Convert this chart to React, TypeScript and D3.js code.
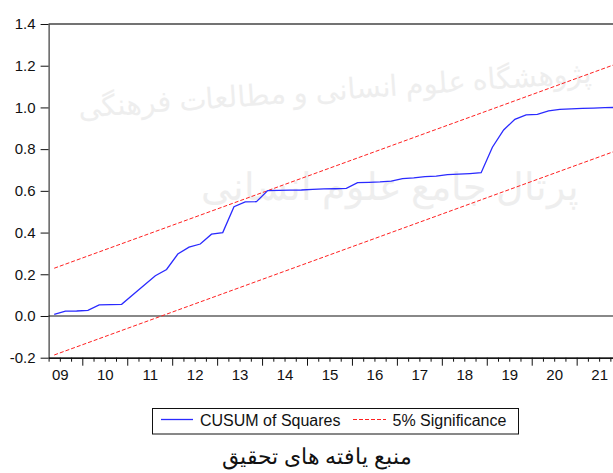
import { useEffect, useRef } from "react";
import { axisBottom, axisLeft, scaleLinear, line, select } from "d3";

// quarterly CUSUM of squares, first observation 2009Q2
const firstYear = 2009;
const firstQuarter = 2;
const cusumSq = [
  0.008, 0.023, 0.024, 0.027, 0.053, 0.054, 0.056, 0.102, 0.147, 0.193,
  0.223, 0.297, 0.33, 0.345, 0.392, 0.4, 0.524, 0.547, 0.548, 0.601,
  0.602, 0.603, 0.604, 0.607, 0.609, 0.61, 0.612, 0.639, 0.641, 0.643,
  0.647, 0.659, 0.662, 0.668, 0.671, 0.678, 0.68, 0.683, 0.687, 0.809,
  0.892, 0.943, 0.964, 0.967, 0.983, 0.991, 0.993, 0.995, 0.997, 0.999, 1.0,
];
// 5% bounds at first and last observation
const upperBand = [0.229, 1.208];
const lowerBand = [-0.187, 0.792];

const yTicks = [-0.2, 0, 0.2, 0.4, 0.6, 0.8, 1.0, 1.2, 1.4];
const years = [2009, 2010, 2011, 2012, 2013, 2014, 2015, 2016, 2017, 2018, 2019, 2020, 2021];
const yearLabels = ["09", "10", "11", "12", "13", "14", "15", "16", "17", "18", "19", "20", "21"];
const seriesNames = ["CUSUM of Squares", "5% Significance"];
const caption = "منبع یافته های تحقیق";
const watermarkLines = ["پژوهشگاه علوم انسانی و مطالعات فرهنگی", "پرتال جامع علوم انسانی"];

const W = 613;
const H = 473;
const font = "Arial, 'Liberation Sans', sans-serif";

const obsTime = (i: number) => firstYear + (firstQuarter - 1) / 4 + i / 4 + 0.125;

function Axis({ axis, transform }: { axis: any; transform?: string }) {
  const ref = useRef<SVGGElement>(null);
  useEffect(() => {
    if (ref.current) {
      const g = select(ref.current);
      g.call(axis);
      g.selectAll("text").attr("font-family", font).attr("font-size", 15).attr("fill", "#111");
    }
  }, [axis]);
  return <g ref={ref} transform={transform} />;
}

export default function App() {
  const x = scaleLinear().domain([2009.25, 2022]).range([48.6, 621.6]);
  const y = scaleLinear().domain([-0.2, 1.4]).range([357.7, 24]);

  const quarters: number[] = [];
  for (let t = 2009.25; t < 2022; t += 0.25) {
    if (Math.abs(t - Math.round(t)) > 0.01) quarters.push(t);
  }
  const majors = years.slice(1).concat([2022]);

  const minorAxis = axisBottom(x).tickValues(quarters).tickSize(4).tickSizeOuter(0).tickFormat(() => "");
  const majorAxis = axisBottom(x).tickValues(majors).tickSize(8).tickSizeOuter(0).tickFormat(() => "");
  const labelAxis = axisBottom(x)
    .tickValues(years.map((yr) => yr + 0.5))
    .tickSize(0)
    .tickPadding(12)
    .tickFormat((_d, i) => yearLabels[i]);
  const leftAxis = axisLeft(y)
    .tickValues(yTicks)
    .tickSize(8)
    .tickSizeOuter(0)
    .tickPadding(5)
    .tickFormat((d: any) => (+d).toFixed(1));

  const pts = cusumSq.map((v, i) => [x(obsTime(i)), y(v)] as [number, number]);
  const path = line()(pts) || "";
  const t0 = obsTime(0);
  const t1 = obsTime(cusumSq.length - 1);

  return (
    <div style={{ position: "absolute", left: 0, top: 0 }}>
      <svg width={W} height={H} style={{ display: "block", background: "#fff" }}>
        {/* faint watermark */}
        <g fill="#eeeeee" fontFamily="serif" textAnchor="middle">
          <text x={335} y={100} fontSize={29} transform="rotate(-4 335 100)">{watermarkLines[0]}</text>
          <text x={390} y={200} fontSize={38}>{watermarkLines[1]}</text>
        </g>

        <line x1={48.6} x2={W} y1={y(1.4)} y2={y(1.4)} stroke="#444" strokeWidth={1.4} />
        <line x1={48.6} x2={W} y1={y(0)} y2={y(0)} stroke="#888" strokeWidth={2} />

        <g style={{ color: "#111" }}>
          <Axis axis={leftAxis} transform={`translate(48.6,0)`} />
          <Axis axis={minorAxis} transform={`translate(0,${y(-0.2)})`} />
          <Axis axis={majorAxis} transform={`translate(0,${y(-0.2)})`} />
          <Axis axis={labelAxis} transform={`translate(0,${y(-0.2)})`} />
        </g>

        <line x1={x(t0)} x2={x(t1)} y1={y(upperBand[0])} y2={y(upperBand[1])}
          stroke="#ff2020" strokeWidth={1} strokeDasharray="4,2" />
        <line x1={x(t0)} x2={x(t1)} y1={y(lowerBand[0])} y2={y(lowerBand[1])}
          stroke="#ff2020" strokeWidth={1} strokeDasharray="4,2" />
        <path d={path} fill="none" stroke="#2a2aff" strokeWidth={1.3} />

        {/* legend */}
        <rect x={152.5} y={408.5} width={366} height={25.5} fill="#fff" stroke="#111" strokeWidth={1} />
        <line x1={161} x2={193} y1={419.5} y2={419.5} stroke="#2a2aff" strokeWidth={1.3} />
        <text x={200} y={426} fontFamily={font} fontSize={16} fill="#111">{seriesNames[0]}</text>
        <line x1={353} x2={386} y1={419.5} y2={419.5} stroke="#ff2020" strokeWidth={1} strokeDasharray="4,2" />
        <text x={392.5} y={426} fontFamily={font} fontSize={16} fill="#111">{seriesNames[1]}</text>

        <text x={317} y={464} textAnchor="middle" fontFamily="serif" fontSize={22} fill="#111">{caption}</text>
      </svg>
    </div>
  );
}
